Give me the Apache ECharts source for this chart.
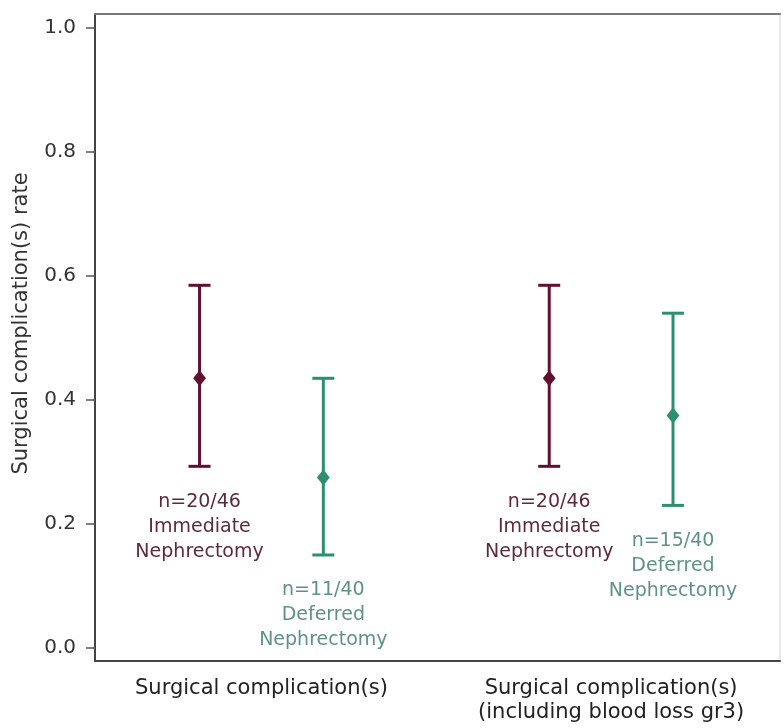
<!DOCTYPE html>
<html>
<head>
<meta charset="utf-8">
<script src="https://cdn.jsdelivr.net/npm/echarts@6/dist/echarts.min.js"></script>
<style>
  html, body { margin: 0; padding: 0; background: #fff; }
  #chart { width: 784px; height: 728px; }
</style>
</head>
<body>
<div id="chart"></div>
<script>
// Outcome groups along the x axis
const groups = ['Surgical complication(s)', 'Surgical complication(s)\n(including blood loss gr3)'];
const yTicks = [0, 0.2, 0.4, 0.6, 0.8, 1.0];

// Immediate nephrectomy: rate with 95% CI
const immediateRate = [0.435, 0.435];
const immediateLow = [0.293, 0.293];
const immediateHigh = [0.585, 0.585];
const immediateN = ['20/46', '20/46'];

// Deferred nephrectomy: rate with 95% CI
const deferredRate = [0.275, 0.375];
const deferredLow = [0.15, 0.23];
const deferredHigh = [0.435, 0.54];
const deferredN = ['11/40', '15/40'];

const DODGE = 0.177;
const FONT = '"DejaVu Sans", "Liberation Sans", Arial, sans-serif';

function buildData(rate, low, high, n) {
  return groups.map((g, i) => [i, rate[i], low[i], high[i], n[i]]);
}

function makeRender(offset, color, textColor, groupName) {
  return function (params, api) {
    const x = api.value(0) + offset;
    const mid = api.coord([x, api.value(1)]);
    const lo = api.coord([x, api.value(2)]);
    const hi = api.coord([x, api.value(3)]);
    const cap = 11;
    const lineStyle = { stroke: color, lineWidth: 3 };
    const s = 8;
    return {
      type: 'group',
      children: [
        { type: 'line', shape: { x1: lo[0], y1: lo[1], x2: hi[0], y2: hi[1] }, style: lineStyle },
        { type: 'line', shape: { x1: hi[0] - cap, y1: hi[1], x2: hi[0] + cap, y2: hi[1] }, style: lineStyle },
        { type: 'line', shape: { x1: lo[0] - cap, y1: lo[1], x2: lo[0] + cap, y2: lo[1] }, style: lineStyle },
        { type: 'polygon', shape: { points: [[mid[0], mid[1] - s], [mid[0] + s * 0.8, mid[1]], [mid[0], mid[1] + s], [mid[0] - s * 0.8, mid[1]]] }, style: { fill: color } },
        {
          type: 'text',
          x: lo[0], y: lo[1] + 23,
          style: {
            text: 'n=' + api.value(4) + '\n' + groupName + '\nNephrectomy',
            fill: textColor,
            font: '19px ' + FONT,
            align: 'center',
            verticalAlign: 'top',
            lineHeight: 25
          }
        }
      ]
    };
  };
}

const chart = echarts.init(document.getElementById('chart'), null, { renderer: 'canvas' });
chart.setOption({
  backgroundColor: '#ffffff',
  animation: false,
  grid: {
    left: 95, right: 4, top: 14, bottom: 67,
    outerBoundsMode: 'none',
    show: true, borderColor: '#d4d4d4', borderWidth: 1
  },
  xAxis: [
    {
      type: 'value',
      min: -0.476,
      max: 1.483,
      axisLine: { show: true, onZero: false, lineStyle: { color: '#444', width: 2 } },
      axisTick: { show: false },
      splitLine: { show: false },
      axisLabel: {
        customValues: [0, 1],
        formatter: v => groups[Math.round(v)],
        color: '#222',
        fontSize: 21,
        fontFamily: FONT,
        margin: 16,
        lineHeight: 24
      }
    },
    {
      type: 'value',
      position: 'top',
      min: -0.476,
      max: 1.483,
      axisLine: { show: true, onZero: false, lineStyle: { color: '#777', width: 2 } },
      axisTick: { show: false },
      axisLabel: { show: false },
      splitLine: { show: false }
    }
  ],
  yAxis: {
    type: 'value',
    min: -0.021,
    max: 1.0226,
    name: 'Surgical complication(s) rate',
    nameLocation: 'middle',
    nameGap: 63,
    nameTextStyle: { color: '#333', fontSize: 21, fontFamily: FONT, padding: [0, 0, 0, 28] },
    axisLine: { show: true, onZero: false, lineStyle: { color: '#444', width: 2 } },
    axisTick: { show: true, customValues: yTicks, length: 9, lineStyle: { color: '#555', width: 1.5 } },
    splitLine: { show: false },
    axisLabel: {
      customValues: yTicks,
      formatter: v => v.toFixed(1),
      color: '#333',
      fontSize: 20,
      fontFamily: FONT,
      margin: 19
    }
  },
  series: [
    {
      name: 'Immediate Nephrectomy',
      type: 'custom',
      renderItem: makeRender(-DODGE, '#621030', '#5e2a3a', 'Immediate'),
      data: buildData(immediateRate, immediateLow, immediateHigh, immediateN)
    },
    {
      name: 'Deferred Nephrectomy',
      type: 'custom',
      renderItem: makeRender(DODGE, '#2c8f72', '#5f9287', 'Deferred'),
      data: buildData(deferredRate, deferredLow, deferredHigh, deferredN)
    }
  ]
});
</script>
</body>
</html>
